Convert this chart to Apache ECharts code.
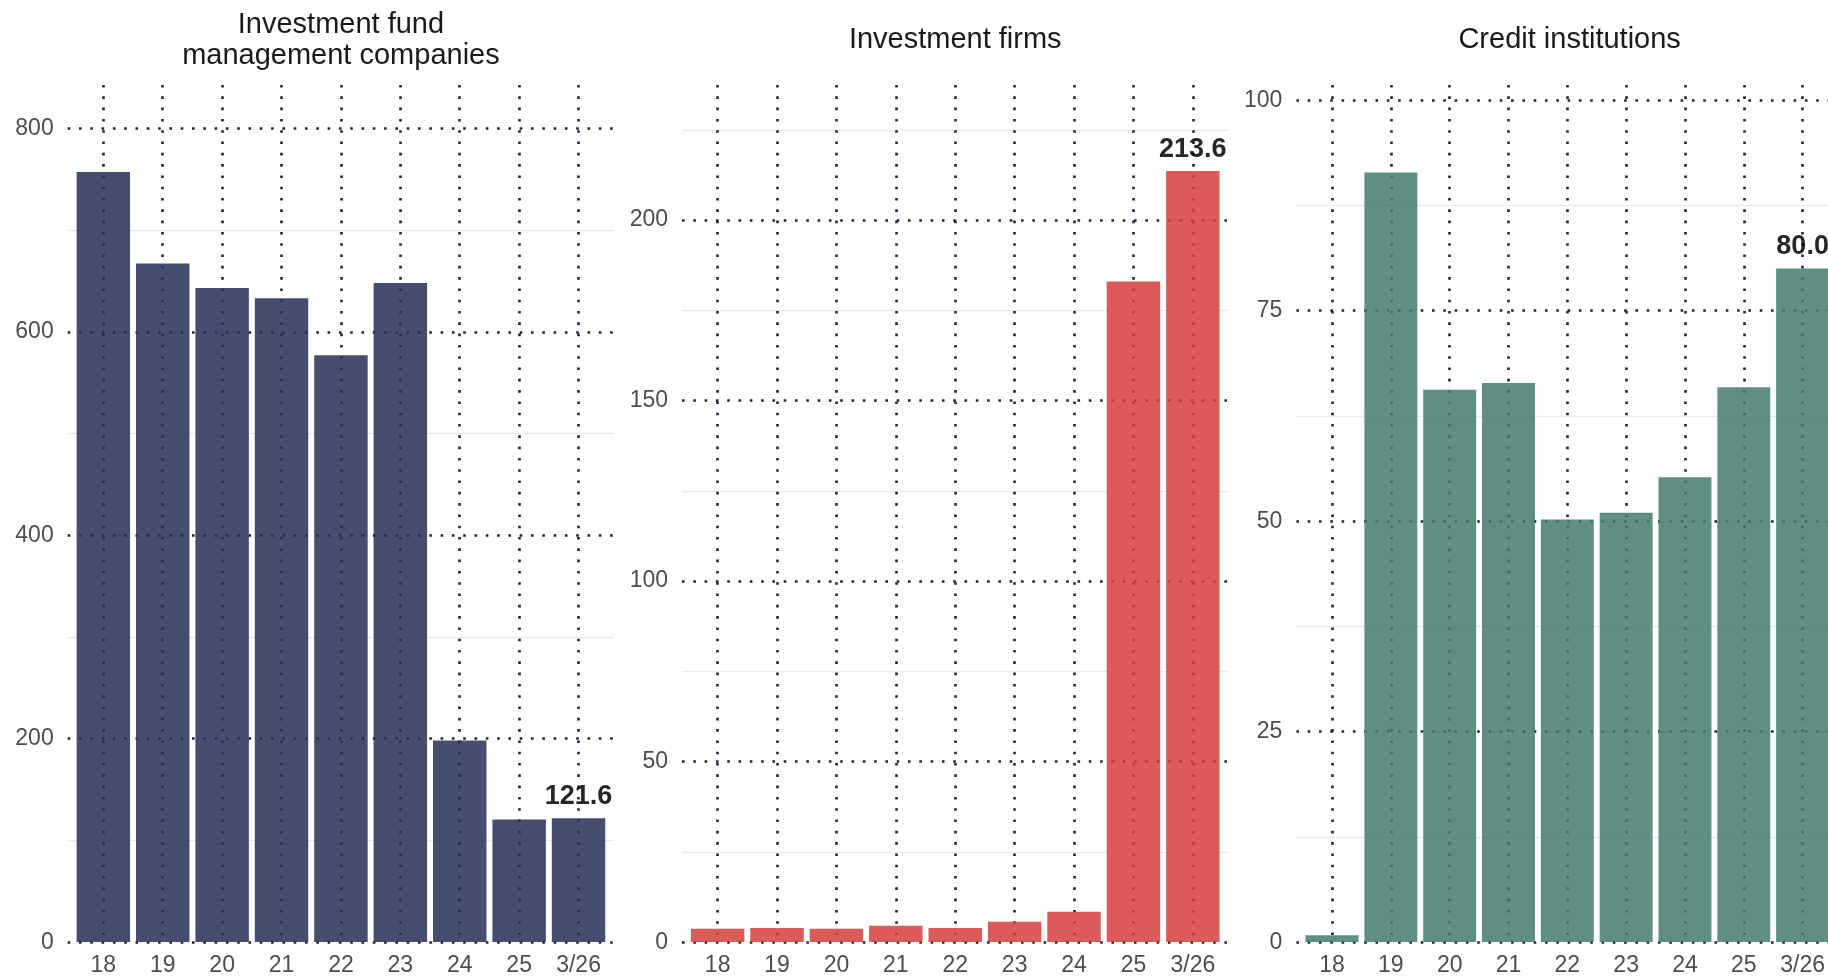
<!DOCTYPE html>
<html>
<head>
<meta charset="utf-8">
<script src="https://cdn.jsdelivr.net/npm/echarts@6/dist/echarts.min.js"></script>
<style>
  html, body { margin: 0; padding: 0; background: #ffffff; }
  #chart { width: 1828px; height: 977px; }
</style>
</head>
<body>
<div id="chart"></div>
<script>
// ---- data ----
const categories = ['18', '19', '20', '21', '22', '23', '24', '25', '3/26'];
const fundMgmtValues = [757, 667, 643, 633, 577, 648, 198, 120.5, 121.6];
const investFirmValues = [3.7, 3.9, 3.7, 4.5, 3.9, 5.6, 8.4, 183, 213.6];
const creditInstValues = [0.8, 91.4, 65.6, 66.4, 50.2, 51.0, 55.2, 65.9, 80.0];
const panelTitles = ['Investment fund\nmanagement companies', 'Investment firms', 'Credit institutions'];
const yAxisMax = [842.6, 237.4, 101.8];
const yTickStep = [200, 50, 25];

// ---- styling / layout ----
const seriesValues = [fundMgmtValues, investFirmValues, creditInstValues];
const barColors = ['#262f57', '#d53e3c', '#437a6c'];
const FONT = 'Liberation Sans, Arial, sans-serif';
const band = 59.4;
const panelLefts = [67.7, 682.0, 1296.4];
const panelWidth = 9.2 * band;
const gridTop = 85;
const gridBottom = 977 - 942.2;
const dotted = { color: '#1e2536', width: 2.6, type: [2.6, 8.7], cap: 'butt' };

const grid = [], xAxis = [], yAxis = [], series = [], title = [];

for (let p = 0; p < 3; p++) {
  const L = panelLefts[p];
  const gWide = grid.length;
  grid.push({ left: L, top: gridTop, width: panelWidth, bottom: gridBottom, containLabel: false });
  const gNarrow = grid.length;
  grid.push({ left: L + 0.6 * band, top: gridTop, width: 8 * band, bottom: gridBottom, containLabel: false });

  xAxis.push({ gridIndex: gWide, type: 'value', min: 0, max: 1, show: false });
  const xNarrow = xAxis.length;
  xAxis.push({
    gridIndex: gNarrow, type: 'category', data: categories, boundaryGap: false,
    axisLine: { show: false }, axisTick: { show: false },
    axisLabel: { interval: 0, fontFamily: FONT, fontSize: 23, lineHeight: 23, color: '#4d4d4d', margin: 12 },
    splitLine: { show: true, interval: 0, lineStyle: dotted }
  });

  yAxis.push({
    gridIndex: gWide, type: 'value', min: 0, max: yAxisMax[p], interval: yTickStep[p],
    axisLine: { show: false }, axisTick: { show: false },
    axisLabel: { fontFamily: FONT, fontSize: 23, color: '#4d4d4d', margin: 14, showMaxLabel: false },
    splitLine: { show: true, showMaxLine: false, lineStyle: dotted }
  });
  yAxis.push({
    gridIndex: gWide, type: 'value', min: 0, max: yAxisMax[p], interval: yTickStep[p] / 2,
    position: 'left',
    axisLine: { show: false }, axisTick: { show: false }, axisLabel: { show: false },
    splitLine: { show: true, showMaxLine: false, lineStyle: { color: ['rgba(0,0,0,0)', '#ebebeb'], width: 1.3, type: 'solid' } }
  });
  const yNarrow = yAxis.length;
  yAxis.push({ gridIndex: gNarrow, type: 'value', min: 0, max: yAxisMax[p], show: false });

  const vals = seriesValues[p];
  series.push({
    type: 'bar', xAxisIndex: xNarrow, yAxisIndex: yNarrow, barWidth: '90%', clip: false,
    itemStyle: { color: barColors[p], opacity: 0.85 },
    emphasis: { disabled: true },
    data: vals.map((v, i) => i === vals.length - 1 ? {
      value: v,
      label: {
        show: true, position: 'top', distance: 8,
        formatter: (d) => Number(d.value).toFixed(1),
        fontFamily: FONT, fontSize: 27, lineHeight: 27, fontWeight: 'bold', color: '#000000'
      }
    } : v)
  });

  const twoLines = panelTitles[p].indexOf('\n') >= 0;
  title.push({
    text: panelTitles[p], left: L + panelWidth / 2, textAlign: 'center',
    top: twoLines ? 9 : 24.3, padding: 0,
    textStyle: { fontFamily: FONT, fontSize: 29, lineHeight: 31, fontWeight: 'normal', color: '#1a1a1a' }
  });
}

const chart = echarts.init(document.getElementById('chart'), null, { renderer: 'canvas' });
chart.setOption({
  animation: false,
  backgroundColor: '#ffffff',
  title, grid, xAxis, yAxis, series
});
</script>
</body>
</html>
